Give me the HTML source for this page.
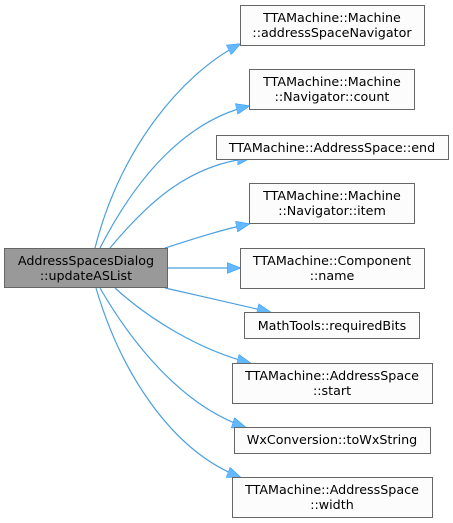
<!DOCTYPE html>
<html><head><style>
html,body{margin:0;padding:0;background:#fff;width:453px;height:523px;overflow:hidden}
svg text{font-family:"DejaVu Sans","Liberation Sans",sans-serif;font-size:12.7px;fill:#000}
</style></head><body>
<svg width="453" height="523" viewBox="0 0 453 523" xmlns="http://www.w3.org/2000/svg">
<defs><marker id="a" markerWidth="14" markerHeight="11" refX="13" refY="5.5" orient="auto" markerUnits="userSpaceOnUse"><path d="M0,0 L14,5.5 L0,11 Z" fill="#63b8ff" stroke="#1e90ff" stroke-width="0.5"/></marker></defs>
<g fill="none" stroke="#4a9fe0" stroke-width="1.2">
<path d="M95,248 C120,150 180,75 240,44" marker-end="url(#a)"/>
<path d="M100,248 C140,170 190,120 249,106" marker-end="url(#a)"/>
<path d="M110,248 C150,200 190,165 250,158" marker-end="url(#a)"/>
<path d="M165,248 C190,240 220,230 249,224" marker-end="url(#a)"/>
<path d="M168,268 L240,268" marker-end="url(#a)"/>
<path d="M165,288 C200,296 240,305 270,312" marker-end="url(#a)"/>
<path d="M115,288 C150,320 200,350 250,363" marker-end="url(#a)"/>
<path d="M100,288 C130,340 180,405 245,427" marker-end="url(#a)"/>
<path d="M96,288 C120,370 170,450 240,477" marker-end="url(#a)"/>
</g>
<g stroke="#666" stroke-width="1" fill="#fbfcfb">
<rect x="4.5" y="248.5" width="163" height="39" fill="#999"/>
<rect x="240.5" y="5.5" width="184" height="40"/>
<rect x="249.5" y="69.5" width="165" height="40"/>
<rect x="216.5" y="135.5" width="232" height="24"/>
<rect x="249.5" y="183.5" width="165" height="40"/>
<rect x="240.5" y="248.5" width="184" height="40"/>
<rect x="244.5" y="312.5" width="175" height="26"/>
<rect x="232.5" y="363.5" width="200" height="40"/>
<rect x="234.5" y="427.5" width="196" height="26"/>
<rect x="232.5" y="477.5" width="200" height="40"/>
</g>
<g text-anchor="middle">
<text x="86" y="265">AddressSpacesDialog</text><text x="86" y="280">::updateASList</text>
<text x="332" y="22">TTAMachine::Machine</text><text x="332" y="37">::addressSpaceNavigator</text>
<text x="332" y="86">TTAMachine::Machine</text><text x="332" y="101">::Navigator::count</text>
<text x="332" y="152">TTAMachine::AddressSpace::end</text>
<text x="332" y="200">TTAMachine::Machine</text><text x="332" y="215">::Navigator::item</text>
<text x="332" y="265">TTAMachine::Component</text><text x="332" y="280">::name</text>
<text x="332" y="330">MathTools::requiredBits</text>
<text x="332" y="380">TTAMachine::AddressSpace</text><text x="332" y="395">::start</text>
<text x="332" y="444">WxConversion::toWxString</text>
<text x="332" y="494">TTAMachine::AddressSpace</text><text x="332" y="509">::width</text>
</g>
</svg>
</body></html>
